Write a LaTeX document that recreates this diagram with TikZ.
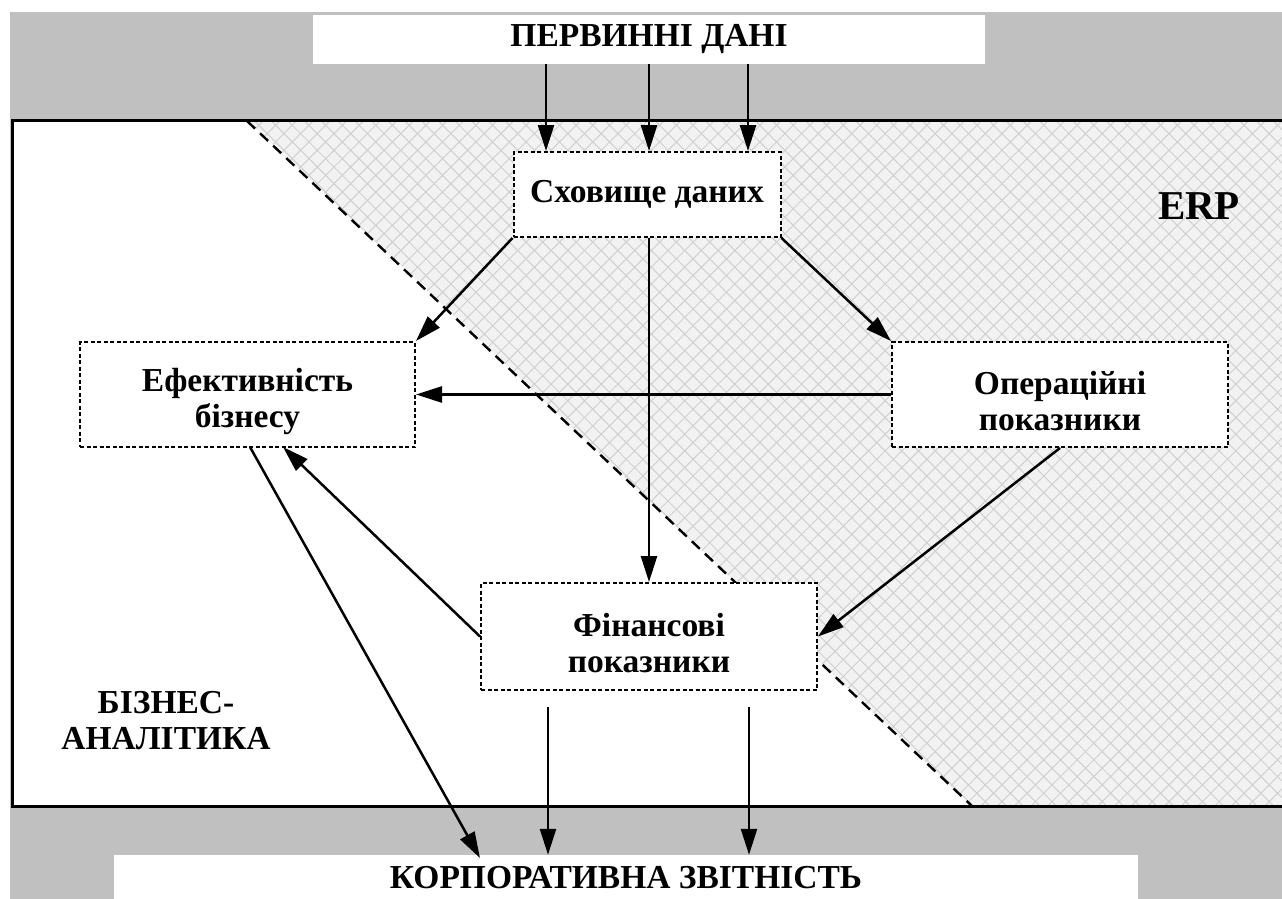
\documentclass[tikz,border=0pt]{standalone}
\usepackage{fontspec}
\setmainfont{Liberation Serif}
\usetikzlibrary{arrows.meta}
\definecolor{framegray}{RGB}{192,192,192}
\definecolor{hatchbg}{RGB}{242,242,242}
\definecolor{hatchln}{RGB}{208,208,208}

\begin{document}
\begin{tikzpicture}[x=1pt,y=-1pt,
  lbl/.style={font=\fontsize{33.5}{36}\selectfont\bfseries, align=center, text=black},
  band/.style={lbl, fill=white, inner sep=0pt},
  block/.style={draw=black, fill=white, line width=2pt,
    dash pattern=on 4pt off 2.5pt, inner sep=0pt},
  caption/.style={label={[lbl, yshift=-7pt]center:{#1}}},
  arr/.style={line width=2.5pt, -{Triangle[length=26pt,width=16pt]}}
]
\useasboundingbox (0,0) rectangle (1282,899);
\fill[white] (0,0) rectangle (1282,899);

% grey frame around the layout
\fill[framegray] (10,12) rectangle (1282,899);

% input / output bands
\node[band, minimum width=672pt, minimum height=49pt] (prim) at (649,39.5) {ПЕРВИННІ ДАНІ};
\node[band, minimum width=1024pt, minimum height=46pt] (corp) at (626,878) {КОРПОРАТИВНА ЗВІТНІСТЬ};

% main field
\fill[white] (12,120) rectangle (1282,806);

% ERP zone with cross hatching
\begin{scope}
  \clip (247,120) -- (1282,120) -- (1282,806) -- (972,806) -- cycle;
  \fill[hatchbg] (0,0) rectangle (1282,899);
  \foreach \k in {-70,...,90}
    \draw[hatchln, line width=1pt] (\k*16.7,0) -- ++(1000,1000);
  \foreach \k in {0,...,150}
    \draw[hatchln, line width=1pt] (\k*16.7,0) -- ++(-1000,1000);
\end{scope}
\draw[line width=2.4pt, dash pattern=on 11pt off 7pt] (247,121) -- (972,806);
\draw[line width=3pt] (1283,120) -- (12,120) -- (12,806) -- (1283,806);

% zone labels
\node[lbl, font=\fontsize{41}{44}\selectfont\bfseries] (erp) at (1199,206) {ERP};
\node[lbl] (bi) at (166,721) {БІЗНЕС-\\АНАЛІТИКА};

% blocks
\node[block, lbl, minimum width=267pt, minimum height=85pt] (store) at (647,194.5) {Сховище даних};
\node[block, caption={Ефективність\\бізнесу}, minimum width=335pt, minimum height=105pt] (eff) at (247.5,394.5) {};
\node[block, caption={Операційні\\показники}, minimum width=336pt, minimum height=105pt] (ops) at (1060,394.5) {};
\node[block, caption={Фінансові\\показники}, minimum width=336pt, minimum height=107pt] (fin) at (649,636.5) {};

% column guides for parallel arrows
\coordinate (ca) at (546,0);
\coordinate (cb) at (649,0);
\coordinate (cc) at (748,0);
\coordinate (cd) at (548,0);
\coordinate (ce) at (749,0);
\coordinate (effin) at (283,447);
\coordinate (effout) at (250,447);
\coordinate (corpin) at (480,858);
\coordinate (fa) at (548,707);
\coordinate (fb) at (749,707);

% connectors
\draw[arr] (prim.south -| ca) -- (store.north -| ca);
\draw[arr] (prim.south -| cb) -- (store.north -| cb);
\draw[arr] (prim.south -| cc) -- (store.north -| cc);
\draw[arr] (store.south west) -- (eff.north east);
\draw[arr] (store.south east) -- (ops.north west);
\draw[arr] (store.south -| cb) -- (fin.north -| cb);
\draw[arr] (ops.west) -- (eff.east);
\draw[arr] (ops.south) -- (fin.east);
\draw[arr] (fin.west) -- (effin);
\draw[arr] (effout) -- (corpin);
\draw[arr] (fa) -- (corp.north -| cd);
\draw[arr] (fb) -- (corp.north -| ce);
\end{tikzpicture}
\end{document}
